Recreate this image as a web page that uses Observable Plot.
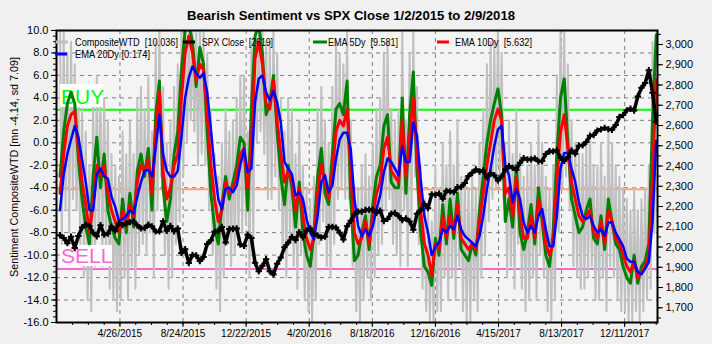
<!DOCTYPE html>
<html><head><meta charset="utf-8">
<script src="https://cdn.jsdelivr.net/npm/d3@7"></script>
<script src="https://cdn.jsdelivr.net/npm/@observablehq/plot@0.6"></script>
<style>
html,body{margin:0;padding:0;background:#f0f0f0;}
#chart{width:712px;height:344px;position:relative;overflow:hidden;}
svg{display:block;}
</style></head><body><div id="chart"></div>
<script>
// ---- data (weekly readings, Fridays from 1/2/2015 to 2/9/2018) ----
const firstWeek = "2015-01-02";
const compositeHi = [10,10,8,9,7,4,3,1,-2,4,
6,5,4,2,-1,-2,-3,1,-1,2,
-1,4,5,3,6,1,9,10,5,0,
2,5,7,10,10,10,10,10,10,10,
8,3,-1,-3,0,3,1,2,4,6,
6,1,9,10,10,10,9,9,10,8,
4,1,4,3,-1,2,-2,-4,-5,-3,
3,5,2,0,5,9,8,7,10,2,
-4,-4,-2,-1,-3,0,3,4,8,9,
3,2,3,10,2,8,10,5,-2,-5,
-6,-7,-2,-4,0,-2,1,-2,2,-3,
-3,-4,-3,-4,0,3,7,9,9,10,
8,0,2,-1,3,-1,-3,-2,0,-2,
2,0,-3,-4,-2,6,10,10,7,2,
0,-1,-1,0,1,-2,-2,0,-3,1,
0,-2,-3,-4,-5,-6,-4,-6,-5,-4,
-2,9,10.036];
const compositeLo = [-9,-6,-8,-5,-6,-9,-12,-14,-15,-11,
-8,-11,-10,-13,-14,-15,-14,-12,-14,-11,
-13,-10,-9,-10,-8,-12,-6,-3,-10,-13,
-12,-9,-7,-3,0,2,1,-2,-1,-2,
-6,-10,-13,-15,-12,-9,-11,-10,-9,-8,
-7,-12,-9,0,1,-1,-5,-5,-3,-6,
-10,-12,-9,-11,-13,-10,-14,-15,-16,-14,
-9,-7,-11,-12,-9,-5,-4,-5,-5,-11,
-15,-16,-14,-12,-14,-12,-10,-9,-6,-5,
-9,-10,-11,-6,-11,-7,-3,-9,-13,-15,
-16,-16,-15,-15,-12,-14,-12,-14,-11,-15,
-16,-16,-14,-15,-12,-10,-7,-5,-4,-3,
-5,-12,-11,-13,-9,-13,-15,-14,-12,-14,
-10,-12,-15,-16,-14,-8,-4,-3,-6,-11,
-12,-13,-13,-12,-11,-14,-14,-12,-15,-11,
-12,-14,-15,-15,-16,-16,-15,-16,-15,-14,
-13,-8,3];
const ema5 = [-3.0,1.0,3.5,4.5,3.5,-1.5,-5.0,-7.5,-9.0,-3.0,
0.5,-4.0,-1.0,-6.0,-7.5,-8.5,-9.0,-5.0,-8.0,-4.5,
-7.5,-2.5,-1.0,-3.0,-0.5,-6.0,2.5,5.5,-4.0,-7.0,
-5.0,-1.0,1.0,6.5,10.0,10.5,9.0,5.0,8.5,7.0,
1.0,-4.5,-7.5,-9.0,-5.5,-3.0,-5.0,-3.5,-2.0,0.5,
0.0,-6.0,3.0,9.5,10.5,8.0,2.5,3.5,6.0,1.0,
-3.0,-5.5,-2.0,-4.0,-7.5,-3.5,-8.0,-10.0,-11.0,-8.0,
-3.0,-0.5,-4.5,-5.5,-1.0,3.0,3.5,2.5,5.5,-5.0,
-10.5,-10.0,-8.0,-6.5,-9.5,-5.5,-3.0,-2.0,1.5,2.5,
-3.5,-4.0,-4.0,4.0,-4.5,2.5,6.3,-2.5,-8.0,-11.0,
-11.5,-12.7,-8.5,-10.0,-5.5,-9.0,-5.0,-8.5,-4.5,-9.5,
-10.0,-10.5,-9.0,-10.0,-6.0,-3.0,0.0,2.0,3.5,4.8,
2.5,-7.0,-5.0,-7.5,-2.0,-8.0,-9.5,-8.0,-5.5,-9.0,
-4.0,-7.0,-10.0,-11.0,-8.0,-1.0,4.0,5.7,0.0,-5.0,
-6.5,-8.0,-7.5,-6.0,-5.0,-8.5,-9.0,-6.5,-9.5,-5.0,
-7.0,-9.0,-9.5,-11.0,-12.0,-12.5,-10.0,-12.5,-11.0,-10.5,
-9.0,2.0,9.581];
const ema10 = [-4.5,-1.0,1.5,2.5,2.8,-0.5,-3.5,-5.5,-8.0,-5.5,
-2.0,-3.0,-2.0,-4.5,-6.0,-7.0,-8.0,-6.0,-7.5,-5.5,
-6.5,-3.5,-2.0,-2.5,-1.5,-4.5,1.0,4.5,-2.5,-5.0,
-4.0,-2.0,-1.0,4.0,8.0,9.5,8.0,5.5,7.0,6.5,
2.5,-2.0,-5.0,-7.0,-6.0,-3.5,-4.5,-4.0,-3.0,-1.0,
-0.5,-4.0,0.0,7.5,9.0,7.0,3.5,3.0,5.5,2.0,
-1.0,-3.5,-2.5,-3.5,-6.0,-4.0,-6.5,-8.5,-9.5,-8.5,
-4.5,-2.0,-3.5,-5.0,-2.5,1.0,2.0,1.5,3.0,-2.5,
-8.0,-9.0,-8.5,-7.0,-9.0,-6.5,-4.5,-3.5,-0.5,0.5,
-2.5,-3.0,-3.5,2.0,-3.0,0.5,4.0,-1.0,-6.0,-9.0,
-10.0,-11.8,-9.0,-9.5,-6.5,-8.5,-6.5,-8.0,-5.5,-8.5,
-9.0,-9.5,-9.0,-9.5,-7.0,-4.5,-2.0,0.0,2.0,3.0,
2.0,-4.5,-4.0,-6.5,-3.0,-6.5,-8.5,-8.5,-6.5,-8.5,
-5.0,-6.5,-9.0,-10.0,-9.0,-3.5,1.0,2.5,-0.5,-3.5,
-5.0,-6.5,-7.0,-6.5,-6.0,-8.0,-8.5,-7.0,-9.0,-6.0,
-7.0,-8.5,-9.0,-10.0,-11.0,-11.5,-10.5,-12.0,-11.5,-11.0,
-10.0,-3.0,5.632];
const ema20 = [-6.0,-2.8,-1.0,0.3,1.5,0.5,-1.5,-3.5,-6.0,-6.0,
-2.8,-2.3,-3.0,-3.2,-4.8,-5.7,-7.0,-6.8,-6.5,-6.0,
-6.3,-4.8,-3.5,-2.5,-2.4,-3.0,-0.5,2.5,-1.0,-2.5,
-3.0,-3.0,-2.5,0.5,4.0,5.8,6.8,6.2,5.8,6.2,
4.5,1.2,-2.3,-5.0,-5.9,-4.1,-4.0,-4.4,-3.8,-2.0,
-0.6,-2.6,-2.3,3.6,5.7,6.0,4.5,3.8,4.6,3.6,
1.8,-1.7,-2.3,-2.8,-4.7,-4.4,-5.0,-6.8,-8.0,-8.6,
-6.5,-3.5,-2.9,-4.4,-3.8,-1.4,0.3,0.9,0.9,-0.6,
-5.0,-7.4,-8.3,-7.7,-8.3,-7.4,-5.9,-4.7,-2.6,-1.4,
-1.7,-2.3,-2.9,-0.3,-1.7,-1.7,1.8,0.6,-3.2,-6.5,
-8.0,-10.0,-9.2,-8.9,-7.7,-8.0,-7.4,-7.7,-6.5,-7.7,
-8.3,-8.6,-8.9,-9.2,-8.3,-6.5,-4.1,-2.3,-0.3,1.2,
1.5,-2.0,-2.9,-5.3,-4.1,-5.0,-7.1,-8.0,-7.4,-8.0,
-6.5,-5.9,-7.7,-9.2,-9.2,-6.5,-2.3,-0.9,-0.9,-2.3,
-3.5,-5.3,-6.5,-6.8,-6.5,-7.4,-8.0,-7.7,-8.3,-7.1,
-7.1,-8.0,-8.6,-9.2,-10.3,-10.6,-10.6,-11.5,-11.7,-11.2,
-10.6,-7.0,0.174];
const spxClose = [2058,2045,2019,2051,1995,2055,2097,2110,2104,2071,
2053,2108,2061,2067,2102,2081,2117,2108,2116,2123,
2126,2107,2092,2094,2110,2102,2077,2077,2127,2080,
2104,2078,2092,1971,1989,1921,1961,1958,1931,1951,
2015,2033,2075,2079,2099,2023,2089,2090,2092,2012,
2006,2061,
2044,1922,1880,1907,1940,1880,1865,1918,1948,1999,
2022,2050,2035,2073,2048,2081,2092,2065,2057,2047,
2052,2099,2099,2096,2071,2037,2103,2130,2162,2175,
2174,2183,2184,2184,2169,2180,2128,2139,2165,2168,
2153,2133,2141,2126,2085,2164,2182,2213,2192,2260,
2258,2264,2239,
2277,2275,2271,2295,2297,2316,2351,2367,2383,2373,
2378,2344,2363,2355,2329,2349,2384,2399,2391,2382,
2416,2439,2432,2433,2438,2423,2425,2459,2473,2472,
2477,2441,2426,2444,2477,2461,2500,2502,2519,2549,
2553,2575,2581,2588,2582,2579,2602,2642,2652,2675,
2683,2674,
2743,2786,2810,2873,2762,2619];

const buyLevel = 2.95, meanLevel = -4.14, sellLevel = -11.23;
const leftTicks = [10,8,6,4,2,0,-2,-4,-6,-8,-10,-12,-14,-16];
const rightTicks = [1700,1800,1900,2000,2100,2200,2300,2400,2500,2600,2700,2800,2900,3000];
const dateTickLabels = ["2015-04-26","2015-08-24","2015-12-22","2016-04-20","2016-08-18","2016-12-16","2017-04-15","2017-08-13","2017-12-11"];
const titleText = "Bearish Sentiment vs SPX Close 1/2/2015 to 2/9/2018";
const yTitle = "Sentiment CompositeWTD [mn -4.14, sd 7.09]";
const legendNames = ["CompositeWTD","SPX Close","EMA 5Dy","EMA 10Dy","EMA 20Dy"];
const legendValues = ["[10.036]","[2619]","[9.581]","[5.632]","[0.174]"];
const seriesColors = ["#c0c0c0","#000000","#008000","#ff0000","#0000ff"];
const zoneLabels = ["BUY","SELL"];

// ---- build ----
const spxLo = 1627.4, spxHi = 3069.1;
const toY = s => -16 + (s - spxLo) * 26 / (spxHi - spxLo);
const fromY = v => spxLo + (v + 16) * (spxHi - spxLo) / 26;
const start = new Date(firstWeek + "T00:00:00Z");
const weeks = ema20.map((_, i) => d3.utcDay.offset(start, 7 * i));
const rows = weeks.map((d, i) => ({date: d, ema5: ema5[i], ema10: ema10[i], ema20: ema20[i], spx: spxClose[i]}));
const grayPts = [];
weeks.forEach((d, i) => {
  grayPts.push({date: d, v: compositeHi[i]});
  if (i < weeks.length - 1) grayPts.push({date: d3.utcHour.offset(d, 84), v: compositeLo[i]});
});
const dateTicks = dateTickLabels.map(s => new Date(s + "T00:00:00Z"));
const xDomain = [new Date(Date.UTC(2014, 11, 26, 8)), new Date(Date.UTC(2018, 1, 11, 11))];
const dateMinor = d3.range(-3, 35).map(k => d3.utcDay.offset(dateTicks[0], 30 * k)).filter(d => d >= xDomain[0] && d <= xDomain[1]);
const leftMinor = d3.range(-16, 10.001, 0.5);
const rightMinor = d3.range(1650, 3051, 50);
const gridVals = leftTicks.filter(v => v > -16 && v < 10);
const fmtDate = d => `${d.getUTCMonth() + 1}/${d.getUTCDate()}/${d.getUTCFullYear()}`;
const FONT = "Arial, 'Liberation Sans', sans-serif";

const svg = Plot.plot({
  width: 712, height: 344,
  marginLeft: 56, marginRight: 55, marginTop: 30, marginBottom: 22,
  style: {background: "#f0f0f0", fontFamily: FONT, fontSize: "11px", color: "#000"},
  x: {type: "utc", domain: xDomain},
  y: {domain: [-16, 10]},
  marks: [
    Plot.frame({fill: "#f4f4f4", stroke: null}),
    Plot.gridY(gridVals, {stroke: "#808080", strokeOpacity: 1, strokeDasharray: "4,4"}),
    Plot.gridX(dateTicks, {stroke: "#808080", strokeOpacity: 1, strokeDasharray: "4,4"}),
    Plot.ruleY([meanLevel], {stroke: "#ffa07a", strokeWidth: 2}),
    Plot.ruleY([buyLevel], {stroke: "#00ff00", strokeWidth: 2}),
    Plot.ruleY([sellLevel], {stroke: "#ff66cc", strokeWidth: 2}),
    Plot.line(grayPts, {x: "date", y: "v", stroke: seriesColors[0], strokeWidth: 2, clip: true}),
    Plot.line(rows, {x: "date", y: "ema5", stroke: seriesColors[2], strokeWidth: 3, clip: true}),
    Plot.line(rows, {x: "date", y: "ema10", stroke: seriesColors[3], strokeWidth: 3, clip: true}),
    Plot.line(rows, {x: "date", y: "ema20", stroke: seriesColors[4], strokeWidth: 2.5, clip: true}),
    Plot.line(rows, {x: "date", y: d => toY(d.spx), stroke: "#000", strokeWidth: 3.5, clip: true}),
    Plot.dot(rows, {x: "date", y: d => toY(d.spx), symbol: "plus", r: 2.2, stroke: "#000", strokeWidth: 2, clip: true}),
    Plot.axisY(leftTicks, {anchor: "left", tickSize: 5, tickPadding: 3, tickFormat: d => d.toFixed(1), label: null, fontSize: 11}),
    Plot.axisY(leftMinor, {anchor: "left", tickSize: 3, tickFormat: () => "", label: null}),
    Plot.axisY(rightTicks.map(toY), {anchor: "right", tickSize: 5, tickPadding: 3, tickFormat: d => d3.format(",")(Math.round(fromY(d))), label: null, fontSize: 11}),
    Plot.axisY(rightMinor.map(toY), {anchor: "right", tickSize: 3, tickFormat: () => "", label: null}),
    Plot.axisX(dateTicks, {anchor: "bottom", tickSize: 5, tickPadding: 2, tickFormat: fmtDate, label: null, fontSize: 10}),
    Plot.axisX(dateMinor, {anchor: "bottom", tickSize: 3, tickFormat: () => "", label: null}),
    Plot.frame({stroke: "#000", strokeWidth: 2})
  ]
});
document.getElementById("chart").appendChild(svg);

const S = d3.select(svg);
// BUY / SELL labels: above the composite (gray) line, beneath the EMA lines
const lineGroups = svg.querySelectorAll('g[aria-label="line"]');
const lab = d3.create("svg:g").attr("font-family", FONT).attr("text-anchor", "start");
lab.append("rect").attr("x", 60).attr("y", 84).attr("width", 43).attr("height", 23).attr("fill", "#ffffff");
lab.append("text").attr("x", 61).attr("y", 104).attr("font-size", 21).attr("fill", "#00ff00").text(zoneLabels[0]);
lab.append("rect").attr("x", 60).attr("y", 245).attr("width", 52).attr("height", 21).attr("fill", "#ffffff");
lab.append("text").attr("x", 61).attr("y", 263).attr("font-size", 21).attr("fill", "#ff66cc").text(zoneLabels[1]);
svg.insertBefore(lab.node(), lineGroups[1]);

// title
S.append("text").attr("x", 351).attr("y", 20).attr("text-anchor", "middle")
  .attr("font-family", FONT).attr("font-weight", "bold").attr("font-size", 13)
  .attr("textLength", 328).attr("lengthAdjust", "spacingAndGlyphs").attr("fill", "#000").text(titleText);
// y title
S.append("text").attr("transform", "translate(18,167) rotate(-90)").attr("text-anchor", "middle")
  .attr("font-family", FONT).attr("font-size", 11.5).attr("textLength", 220).attr("lengthAdjust", "spacingAndGlyphs")
  .attr("fill", "#000").text(yTitle);
// legend (one text per entry: name, two spaces, value)
const legPos = [
  {s0: 56, s1: 68, y: 42, x0: 75, x1: 178},
  {s0: 183, s1: 195, y: 42, x0: 202, x1: 273},
  {s0: 313, s1: 327, y: 42, x0: 328, x1: 398},
  {s0: 437, s1: 449, y: 42, x0: 455, x1: 532},
  {s0: 55, s1: 67, y: 54, x0: 75, x1: 150}
];
const leg = S.append("g").attr("font-family", FONT).attr("font-size", 11).attr("fill", "#000").attr("text-anchor", "start");
legPos.forEach((p, i) => {
  leg.append("line").attr("x1", p.s0).attr("x2", p.s1).attr("y1", p.y).attr("y2", p.y)
    .attr("stroke", seriesColors[i]).attr("stroke-width", 3);
  leg.append("text").attr("x", p.x0).attr("y", p.y + 4).attr("textLength", p.x1 - p.x0)
    .attr("lengthAdjust", "spacingAndGlyphs").style("white-space", "pre")
    .text(legendNames[i] + (i === 4 ? " " : "  ") + legendValues[i]);
});
</script>
</body></html>
